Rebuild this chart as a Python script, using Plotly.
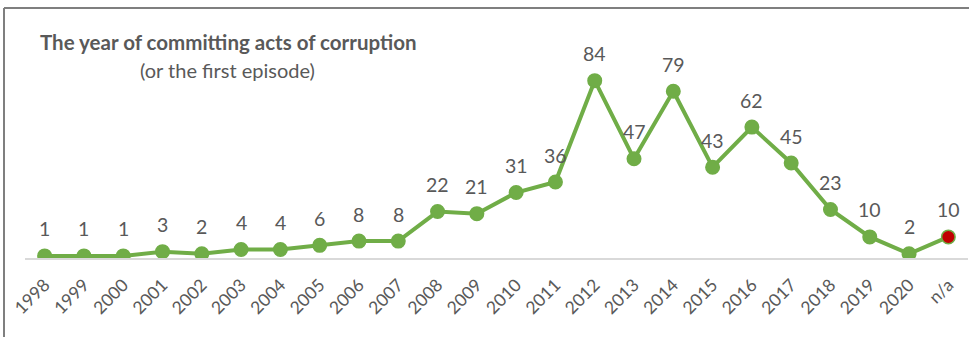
import plotly.graph_objects as go

# Data: number of cases by year of committing the act (or the first episode)
years = ["1998", "1999", "2000", "2001", "2002", "2003", "2004", "2005", "2006",
         "2007", "2008", "2009", "2010", "2011", "2012", "2013", "2014", "2015",
         "2016", "2017", "2018", "2019", "2020", "n/a"]
cases = [1, 1, 1, 3, 2, 4, 4, 6, 8, 8, 22, 21, 31, 36, 84, 47, 79, 43, 62, 45,
         23, 10, 2, 10]

title_text = "The year of committing acts of corruption"
subtitle_text = "(or the first episode)"

W, H = 969, 337
M_L, M_R, M_T, M_B = 25, 1, 68, 79
PW, PH = W - M_L - M_R, H - M_T - M_B

GREEN = "#70AD47"
RED = "#C00000"
TEXT = "#595959"
FONT = "Lato"


def px_x(x):
    return (x - M_L) / PW


def px_y(y):
    return (H - M_B - y) / PH


idx = list(range(len(years)))
marker_colors = [GREEN] * (len(years) - 1) + [RED]

fig = go.Figure()
fig.add_trace(go.Scatter(
    x=idx, y=cases, mode="lines+markers",
    line=dict(color=GREEN, width=4),
    marker=dict(size=13.5, color=marker_colors, line=dict(color=GREEN, width=1.5)),
    hoverinfo="skip", showlegend=False,
))

annotations = []
for i, v in zip(idx, cases):
    annotations.append(dict(
        x=i, y=v, xref="x", yref="y", text=str(v), showarrow=False,
        yanchor="middle", yshift=27,
        font=dict(family=FONT, size=19.5, color=TEXT),
    ))

annotations.append(dict(
    x=px_x(228), y=px_y(42), xref="paper", yref="paper", text=title_text,
    showarrow=False, xanchor="center", yanchor="middle",
    font=dict(family=FONT, size=20.5, color=TEXT, weight="bold"),
))
annotations.append(dict(
    x=px_x(227), y=px_y(70), xref="paper", yref="paper", text=subtitle_text,
    showarrow=False, xanchor="center", yanchor="middle",
    font=dict(family=FONT, size=20, color=TEXT),
))

# Frame lines along the top and left edges
shapes = [
    dict(type="line", xref="paper", yref="paper",
         x0=px_x(4), x1=px_x(W), y0=px_y(8), y1=px_y(8),
         line=dict(color="#7F7F7F", width=2)),
    dict(type="line", xref="paper", yref="paper",
         x0=px_x(4), x1=px_x(4), y0=px_y(8), y1=px_y(H),
         line=dict(color="#7F7F7F", width=2)),
]

fig.update_layout(
    width=W, height=H,
    margin=dict(l=M_L, r=M_R, t=M_T, b=M_B, pad=0),
    paper_bgcolor="white", plot_bgcolor="white",
    font=dict(family=FONT, color=TEXT),
    annotations=annotations, shapes=shapes,
    xaxis=dict(
        range=[-0.5, len(years) - 0.5], showgrid=False, zeroline=False,
        showline=True, linecolor="#D9D9D9", linewidth=2,
        tickmode="array", tickvals=idx, ticktext=years,
        ticks="", tickangle=-45, ticklabelstandoff=8,
        tickfont=dict(family=FONT, size=17.5, color=TEXT),
    ),
    yaxis=dict(range=[0, 90], visible=False, showgrid=False, zeroline=False),
)

fig.write_html("out.html")
